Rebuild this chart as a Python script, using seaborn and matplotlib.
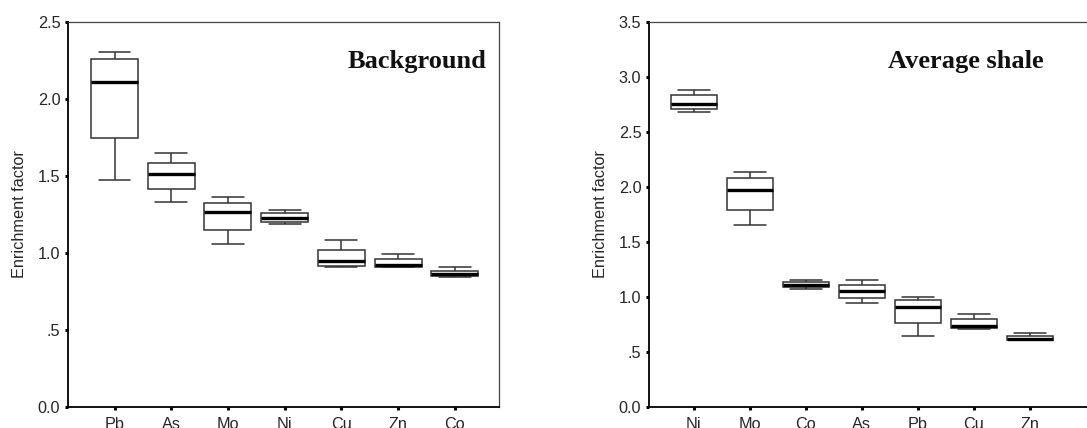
import numpy as np
import pandas as pd
import seaborn as sns
import matplotlib
matplotlib.use("Agg")
import matplotlib.pyplot as plt
from matplotlib.ticker import FuncFormatter

# Five-number summaries: whisker low, Q1, median, Q3, whisker high
bg_elements = ["Pb", "As", "Mo", "Ni", "Cu", "Zn", "Co"]
bg_low = [1.476, 1.333, 1.058, 1.188, 0.909, 0.907, 0.842]
bg_q1 = [1.745, 1.418, 1.152, 1.199, 0.916, 0.907, 0.848]
bg_med = [2.108, 1.511, 1.266, 1.225, 0.946, 0.922, 0.866]
bg_q3 = [2.260, 1.582, 1.325, 1.258, 1.022, 0.961, 0.885]
bg_high = [2.305, 1.652, 1.361, 1.279, 1.084, 0.991, 0.907]

sh_elements = ["Ni", "Mo", "Co", "As", "Pb", "Cu", "Zn"]
sh_low = [2.682, 1.655, 1.076, 0.942, 0.645, 0.706, 0.606]
sh_q1 = [2.706, 1.791, 1.091, 0.991, 0.764, 0.718, 0.606]
sh_med = [2.755, 1.973, 1.106, 1.052, 0.912, 0.739, 0.621]
sh_q3 = [2.833, 2.079, 1.133, 1.109, 0.973, 0.800, 0.642]
sh_high = [2.885, 2.133, 1.155, 1.155, 0.997, 0.845, 0.670]


def to_long(elements, *cols):
    # five values per element -> numpy quartiles hit exactly q1 / median / q3
    rows = []
    for i, el in enumerate(elements):
        for c in cols:
            rows.append((el, c[i]))
    return pd.DataFrame(rows, columns=["element", "ef"])


df_bg = to_long(bg_elements, bg_low, bg_q1, bg_med, bg_q3, bg_high)
df_sh = to_long(sh_elements, sh_low, sh_q1, sh_med, sh_q3, sh_high)

sns.set_style("white")
plt.rcParams["font.family"] = ["Liberation Sans", "DejaVu Sans"]

fig = plt.figure(figsize=(10.87, 4.28), dpi=100)
ax1 = fig.add_axes([68 / 1087, 1 - 407 / 428, (499 - 68) / 1087, 385 / 428])
ax2 = fig.add_axes([649 / 1087, 1 - 407 / 428, (1100 - 649) / 1087, 385 / 428])


def fmt(v, pos):
    s = f"{v:.1f}"
    return ".5" if abs(v - 0.5) < 1e-9 else s


def draw(ax, df, order, ymax, label, xlim, label_x):
    sns.boxplot(
        data=df, x="element", y="ef", order=order, ax=ax,
        whis=(0, 100), width=0.83, color="white", linecolor="#333333",
        linewidth=1.1, showfliers=False, capwidths=0.56,
        medianprops=dict(color="black", linewidth=2.4),
    )
    ax.set_ylim(0, ymax)
    ax.set_xlim(*xlim)
    ax.set_yticks(np.arange(0, ymax + 0.01, 0.5))
    ax.yaxis.set_major_formatter(FuncFormatter(fmt))
    ax.set_xlabel("")
    ax.set_ylabel("Enrichment factor", fontsize=11.7, labelpad=8)
    ax.tick_params(axis="both", direction="out", length=2.5, width=2.2,
                   color="black", labelsize=11.7, left=True, bottom=True)
    ax.tick_params(axis="x", pad=5)
    ax.tick_params(axis="y", pad=3)
    for side in ["left", "bottom"]:
        ax.spines[side].set_linewidth(1.3)
        ax.spines[side].set_color("black")
    for side in ["top", "right"]:
        ax.spines[side].set_linewidth(0.9)
        ax.spines[side].set_color("#444444")
    ax.text(label_x, 0.881, label, transform=ax.transAxes, ha="right",
            va="baseline", fontsize=19, fontweight="bold",
            family="Liberation Serif", color="#111111")


draw(ax1, df_bg, bg_elements, 2.5, "Background", (-0.82, 6.78), 0.972)
draw(ax2, df_sh, sh_elements, 3.5, "Average shale", (-0.8, 7.25), 0.876)

fig.savefig("out.png", dpi=100)
